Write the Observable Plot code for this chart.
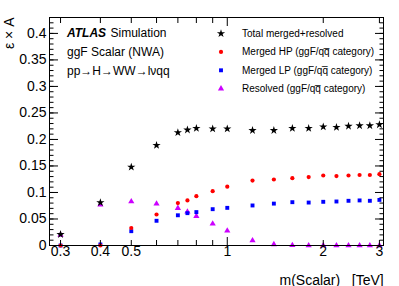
<!DOCTYPE html>
<html>
<head>
<meta charset="utf-8">
<script src="https://cdn.jsdelivr.net/npm/d3@7"></script>
<script src="https://cdn.jsdelivr.net/npm/@observablehq/plot@0.6"></script>
<style>
  html, body { margin: 0; padding: 0; background: #fff; }
  #chart svg { display: block; }
</style>
</head>
<body>
<div id="chart"></div>
<script>
// masses in TeV
const masses   = [0.3, 0.4, 0.5, 0.6, 0.7, 0.75, 0.8, 0.9, 1.0, 1.2, 1.4, 1.6, 1.8, 2.0, 2.2, 2.4, 2.6, 2.8, 3.0];
const total    = [0.021, 0.081, 0.148, 0.189, 0.213, 0.218, 0.221, 0.220, 0.220, 0.217, 0.217, 0.221, 0.221, 0.224, 0.223, 0.225, 0.226, 0.226, 0.228];
const mergedHP = [0.0, 0.0, 0.033, 0.0585, 0.080, 0.085, 0.093, 0.1025, 0.111, 0.1225, 0.1245, 0.127, 0.129, 0.132, 0.131, 0.132, 0.133, 0.133, 0.1345];
const mergedLP = [0.0, 0.002, 0.027, 0.0466, 0.057, 0.061, 0.063, 0.0685, 0.071, 0.0755, 0.079, 0.0817, 0.081, 0.0824, 0.083, 0.0843, 0.085, 0.0843, 0.086];
const resolved = [0.020, 0.077, 0.083, 0.0786, 0.0705, 0.0635, 0.0553, 0.041, 0.0277, 0.0094, 0.002, 0.0005, 0.0, 0.0, 0.0, 0.0, 0.0, 0.0, 0.0];

const legendNames = ["Total merged+resolved", "Merged HP (ggF/qq\u0305 category)", "Merged LP (ggF/qq\u0305 category)", "Resolved (ggF/qq\u0305 category)"];
const seriesColors = ["#000000", "#ff0000", "#0000ff", "#cc00ff"];
const seriesSymbols = ["star", "circle", "square", "triangle"];
const seriesR = [2.6, 2.1, 2.2, 2.3];
const seriesValues = [total, mergedHP, mergedLP, resolved];

const xTickLabels = [0.3, 0.4, 0.5, 1, 2, 3];
const xMinorTicks = [0.3, 0.4, 0.5, 0.6, 0.7, 0.8, 0.9, 2, 3];
const xMajorTicks = [1];
const yTickLabels = [0, 0.05, 0.1, 0.15, 0.2, 0.25, 0.3, 0.35, 0.4];
const yMinorTicks = d3.range(0, 43).map(i => i / 100);

const font = "Liberation Sans, Arial, Helvetica, sans-serif";

const marks = [];
// points, drawn back to front
for (let s = 3; s >= 0; s--) {
  const data = masses.map((m, i) => ({m, v: seriesValues[s][i]}));
  marks.push(Plot.dot(data, {x: "m", y: "v", symbol: () => seriesSymbols[s], r: seriesR[s], fill: seriesColors[s], stroke: "none"}));
}

const noText = () => "";
// ticks (inward) - y
marks.push(Plot.axisY(yMinorTicks, {anchor: "left", tickSize: -4.5, tickFormat: noText, label: null, stroke: "#000"}));
marks.push(Plot.axisY(yMinorTicks, {anchor: "right", tickSize: -4.5, tickFormat: noText, label: null, stroke: "#000"}));
marks.push(Plot.axisY(yTickLabels, {anchor: "left", tickSize: -9, tickFormat: noText, label: null, stroke: "#000"}));
marks.push(Plot.axisY(yTickLabels, {anchor: "right", tickSize: -9, tickFormat: noText, label: null, stroke: "#000"}));
// ticks (inward) - x
marks.push(Plot.axisX(xMinorTicks, {anchor: "bottom", tickSize: -5, tickFormat: noText, label: null, stroke: "#000"}));
marks.push(Plot.axisX(xMinorTicks, {anchor: "top", tickSize: -5, tickFormat: noText, label: null, stroke: "#000"}));
marks.push(Plot.axisX(xMajorTicks, {anchor: "bottom", tickSize: -8, tickFormat: noText, label: null, stroke: "#000"}));
marks.push(Plot.axisX(xMajorTicks, {anchor: "top", tickSize: -8, tickFormat: noText, label: null, stroke: "#000"}));

// tick labels
marks.push(Plot.text(yTickLabels, {y: d => d, text: d => String(d), frameAnchor: "left", textAnchor: "end", lineAnchor: "middle", dx: -3, fontSize: 14, fill: "#000"}));
marks.push(Plot.text(xTickLabels, {x: d => d, text: d => String(d), frameAnchor: "bottom", textAnchor: "middle", lineAnchor: "top", dy: 1, fontSize: 14, fill: "#000"}));

marks.push(Plot.frame({stroke: "#000", strokeWidth: 1}));

// axis titles
marks.push(Plot.text(["m(Scalar)\u00a0\u00a0\u00a0[TeV]"], {frameAnchor: "bottom-left", textAnchor: "start", lineAnchor: "bottom", dx: 230, dy: 39, fontSize: 14, fill: "#000"}));
marks.push(Plot.text(["\u03b5 \u00d7 A"], {frameAnchor: "top-left", rotate: -90, textAnchor: "end", lineAnchor: "middle", dx: -40, dy: 0, fontSize: 14, fill: "#000"}));

// ATLAS label
marks.push(Plot.text(["ATLAS"], {frameAnchor: "top-left", textAnchor: "start", lineAnchor: "middle", dx: 17.5, dy: 16, fontSize: 12, fontWeight: "bold", fontStyle: "italic", fill: "#000"}));
marks.push(Plot.text(["Simulation"], {frameAnchor: "top-left", textAnchor: "start", lineAnchor: "middle", dx: 61, dy: 16, fontSize: 12, fill: "#000"}));
marks.push(Plot.text(["ggF Scalar (NWA)"], {frameAnchor: "top-left", textAnchor: "start", lineAnchor: "middle", dx: 17.5, dy: 35, fontSize: 12, fill: "#000"}));
marks.push(Plot.text(["pp\u2192H\u2192WW\u2192l\u03bdqq"], {frameAnchor: "top-left", textAnchor: "start", lineAnchor: "middle", dx: 17.5, dy: 54, fontSize: 12, fill: "#000"}));

// legend
for (let s = 0; s < 4; s++) {
  marks.push(Plot.dot([legendNames[s]], {frameAnchor: "top-left", dx: 171.5, dy: 16 + s * 18.4, symbol: () => seriesSymbols[s], r: seriesR[s], fill: seriesColors[s], stroke: "none"}));
  marks.push(Plot.text([legendNames[s]], {frameAnchor: "top-left", textAnchor: "start", lineAnchor: "middle", dx: 192.5, dy: 16 + s * 18.4, fontSize: 10, fill: "#000"}));
}

const chart = Plot.plot({
  width: 399,
  height: 286,
  marginLeft: 49,
  marginRight: 16,
  marginTop: 17,
  marginBottom: 41,
  style: {fontFamily: font, background: "#fff", color: "#000"},
  x: {type: "log", domain: [0.277, 3.09], axis: null},
  y: {domain: [0, 0.43], axis: null},
  marks
});
document.getElementById("chart").appendChild(chart);
</script>
</body>
</html>
